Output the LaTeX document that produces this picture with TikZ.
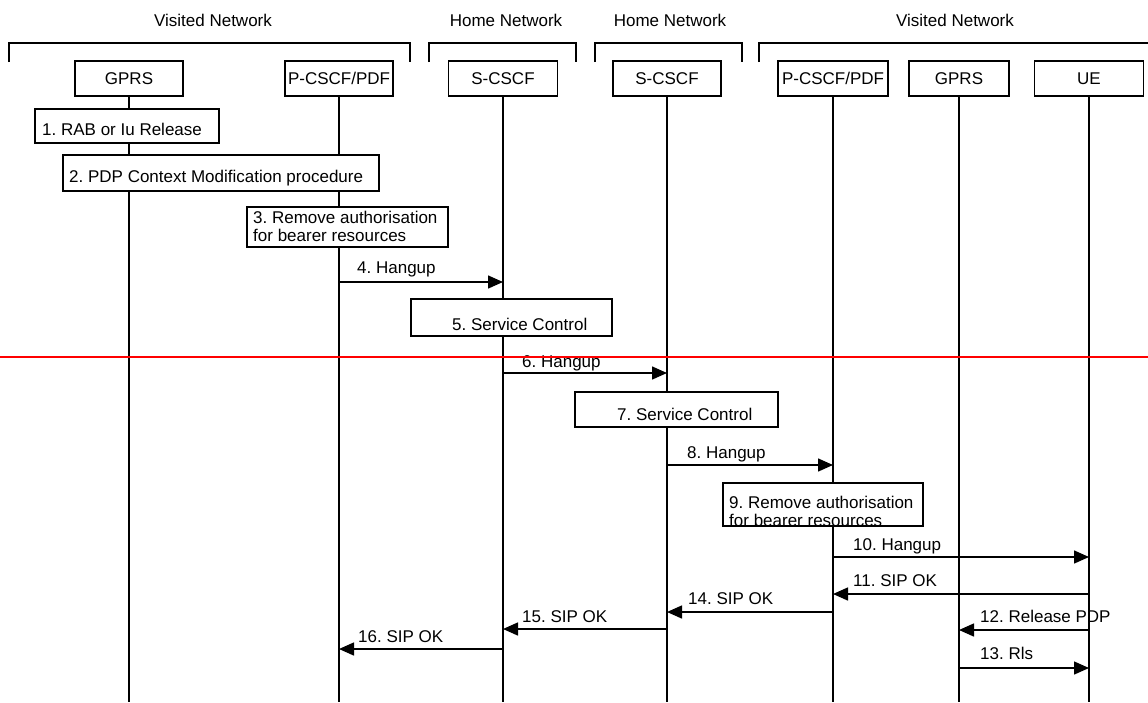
\documentclass[tikz,border=0pt]{standalone}
\usepackage{fontspec}
\setmainfont{Liberation Sans}
\usetikzlibrary{arrows.meta}
\frenchspacing
\begin{document}
\begin{tikzpicture}[x=1pt,y=-1pt,
  every node/.style={font=\fontsize{17}{18}\selectfont\frenchspacing, inner sep=0pt},
  ln/.style={line width=1.5pt},
  head/.style={draw, line width=1.5pt, fill=white, minimum height=35pt},
  stepbox/.style={draw, line width=1.5pt, fill=white},
  lbl/.style={anchor=base west, align=left},
  msg/.style={line width=1.5pt, -{Triangle[length=15pt,width=13pt]}},
  bracket/.style={line width=1.5pt}]
\useasboundingbox (0,0) rectangle (1148,702);

% network titles
\node[anchor=base] (vn1) at (213,26) {Visited Network};
\node[anchor=base] (hn1) at (506,26) {Home Network};
\node[anchor=base] (hn2) at (670,26) {Home Network};
\node[anchor=base] (vn2) at (955,26) {Visited Network};

% brackets
\draw[bracket] (9,62) -- (9,43) -- (410,43) -- (410,62);
\draw[bracket] (429,62) -- (429,43) -- (576,43) -- (576,62);
\draw[bracket] (595,62) -- (595,43) -- (742,43) -- (742,62);
\draw[bracket] (759,62) -- (759,43) -- (1148,43);

% entity heads
\node[head, minimum width=108pt] (gprs1) at (129,78.5) {GPRS};
\node[head, minimum width=108pt] (pc1) at (339,78.5) {P-CSCF/PDF};
\node[head, minimum width=109pt] (sc1) at (503,78.5) {S-CSCF};
\node[head, minimum width=108pt] (sc2) at (667,78.5) {S-CSCF};
\node[head, minimum width=110pt] (pc2) at (833,78.5) {P-CSCF/PDF};
\node[head, minimum width=100pt] (gprs2) at (959,78.5) {GPRS};
\node[head, minimum width=109pt] (ue) at (1089,78.5) {UE};

% lifelines
\foreach \n in {gprs1,pc1,sc1,sc2,pc2,gprs2,ue}
  \draw[ln] (\n.south) -- (\n |- 0,702);

% process boxes
\draw[stepbox] (35,109) rectangle (219,143);
\node[lbl] (b1) at (42,135) {1. RAB or Iu Release};
\draw[stepbox] (63,155) rectangle (379,191);
\node[lbl] (b2) at (69,182) {2. PDP Context Modification procedure};
\draw[stepbox] (247,207) rectangle (448,247);
\node[lbl] (b3) at (253,223) {3. Remove authorisation};
\node[lbl] (b3b) at (253,241) {for bearer resources};
\draw[stepbox] (411,299) rectangle (612,336);
\node[lbl] (b5) at (452,330) {5. Service Control};
\draw[stepbox] (575,392) rectangle (778,427);
\node[lbl] (b7) at (617,420) {7. Service Control};
\draw[stepbox] (723,483) rectangle (923,526);
\node[lbl] (b9) at (729,508) {9. Remove authorisation};
\node[lbl] (b9b) at (729,526) {for bearer resources};
\draw[line width=1.5pt] (723,526) -- (923,526);

% messages
\draw[msg] (pc1 |- 0,282) -- (sc1 |- 0,282);
\node[lbl] (m4) at (357,273) {4. Hangup};
\draw[msg] (sc1 |- 0,373) -- (sc2 |- 0,373);
\node[lbl] (m6) at (522,367) {6. Hangup};
\draw[msg] (sc2 |- 0,465) -- (pc2 |- 0,465);
\node[lbl] (m8) at (687,458) {8. Hangup};
\draw[msg] (pc2 |- 0,557) -- (ue |- 0,557);
\node[lbl] (m10) at (853,550) {10. Hangup};
\draw[msg] (ue |- 0,594) -- (pc2 |- 0,594);
\node[lbl] (m11) at (853,586) {11. SIP OK};
\draw[msg] (ue |- 0,630) -- (gprs2 |- 0,630);
\node[lbl] (m12) at (980,622) {12. Release PDP};
\draw[msg] (gprs2 |- 0,668) -- (ue |- 0,668);
\node[lbl] (m13) at (980,659) {13. Rls};
\draw[msg] (pc2 |- 0,612) -- (sc2 |- 0,612);
\node[lbl] (m14) at (688,604) {14. SIP OK};
\draw[msg] (sc2 |- 0,629) -- (sc1 |- 0,629);
\node[lbl] (m15) at (522,622) {15. SIP OK};
\draw[msg] (sc1 |- 0,649) -- (pc1 |- 0,649);
\node[lbl] (m16) at (358,642) {16. SIP OK};

% red separator
\draw[red, line width=2pt] (0,357) -- (1148,357);
\end{tikzpicture}
\end{document}
